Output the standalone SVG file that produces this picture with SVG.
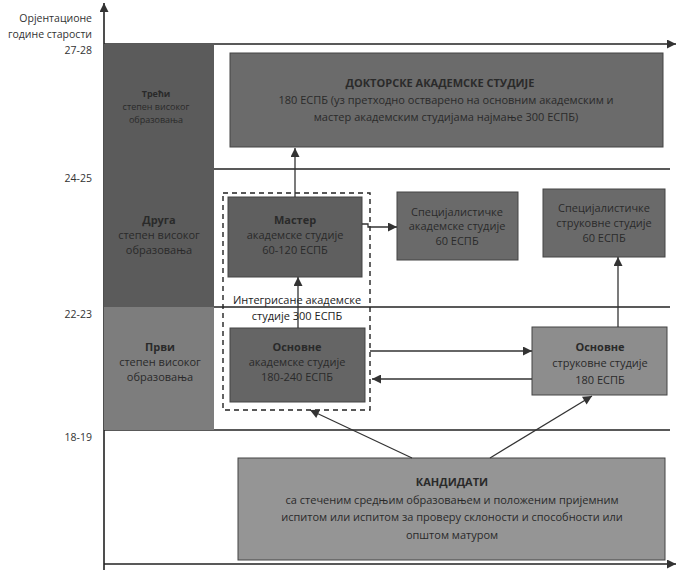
<svg xmlns="http://www.w3.org/2000/svg" width="679" height="572" viewBox="0 0 679 572">
<style>
.t{font-family:"Open Sans","Liberation Sans",sans-serif;font-size:11px;fill:#2a2a2a;text-anchor:middle}
.b{font-weight:bold}
.s{font-size:9px}
.ax{font-family:"Open Sans","Liberation Sans",sans-serif;font-size:10.5px;fill:#333;text-anchor:end}
.ln{stroke:#222;stroke-width:1.6;fill:none}
.c{stroke:#333;stroke-width:1.3;fill:none}
.bx{stroke:#444;stroke-width:1}
</style>
<defs>
<marker id="ah" viewBox="0 0 10 10" refX="10" refY="5" markerWidth="11" markerHeight="9" orient="auto" markerUnits="userSpaceOnUse"><path d="M0,0 L10,5 L0,10 z" fill="#333"/></marker>
</defs>
<rect width="679" height="572" fill="#fff"/>

<g id="axes">
<line class="ln" x1="104" y1="570" x2="104" y2="3" marker-end="url(#ah)"/>
<line class="ln" x1="104" y1="44" x2="676" y2="44" marker-end="url(#ah)"/>
<line class="ln" x1="104" y1="564" x2="676" y2="564" marker-end="url(#ah)"/>
<line class="ln" x1="214" y1="169" x2="670" y2="169"/>
<line class="ln" x1="214" y1="307" x2="670" y2="307"/>
<line class="ln" x1="104" y1="430" x2="670" y2="430"/>
<text class="ax" x="92" y="22">Орјентационе</text>
<text class="ax" x="92" y="38">године старости</text>
<text class="ax" x="92" y="54">27-28</text>
<text class="ax" x="92" y="182">24-25</text>
<text class="ax" x="92" y="318">22-23</text>
<text class="ax" x="92" y="441">18-19</text>
</g>

<g id="level3">
<rect x="104" y="44" width="110" height="125" fill="#5b5b5b"/>
<text class="t b s" x="156" y="97">Трећи</text>
<text class="t s" x="156" y="110">степен високог</text>
<text class="t s" x="156" y="123">образовања</text>
</g>
<g id="level2">
<rect x="104" y="169" width="110" height="138" fill="#5b5b5b"/>
<text class="t b" x="159" y="224">Друга</text>
<text class="t" x="159" y="239">степен високог</text>
<text class="t" x="159" y="254">образовања</text>
</g>
<g id="level1">
<rect x="104" y="307" width="110" height="123" fill="#7d7d7d"/>
<text class="t b" x="160" y="351">Први</text>
<text class="t" x="160" y="366">степен високог</text>
<text class="t" x="160" y="381">образовања</text>
</g>

<g id="doctoral">
<rect class="bx" x="230" y="53" width="433" height="94" fill="#6b6b6b"/>
<text class="t b" x="440" y="87">ДОКТОРСКЕ АКАДЕМСКЕ СТУДИЈЕ</text>
<text class="t" x="446" y="104">180 ЕСПБ (уз претходно остварено на основним академским и</text>
<text class="t" x="446" y="121">мастер академским студијама најмање 300 ЕСПБ)</text>
</g>

<g id="integrated">
<rect x="223" y="193" width="147" height="217" fill="none" stroke="#222" stroke-width="1.4" stroke-dasharray="5,4"/>
<text class="t" x="297" y="304" style="fill:#222">Интегрисане академске</text>
<text class="t" x="297" y="320" style="fill:#222">студије 300 ЕСПБ</text>
</g>

<g id="master">
<rect class="bx" x="228" y="197" width="134" height="80" fill="#5f5f5f"/>
<text class="t b" x="295" y="224">Мастер</text>
<text class="t" x="295" y="239">академске студије</text>
<text class="t" x="295" y="254">60-120 ЕСПБ</text>
</g>

<g id="basic-academic">
<rect class="bx" x="230" y="328" width="135" height="74" fill="#656565"/>
<text class="t b" x="297" y="351">Основне</text>
<text class="t" x="297" y="366">академске студије</text>
<text class="t" x="297" y="381">180-240 ЕСПБ</text>
</g>

<g id="spec-academic">
<rect class="bx" x="397" y="192" width="121" height="68" fill="#6a6a6a"/>
<text class="t" x="457" y="216">Специјалистичке</text>
<text class="t" x="457" y="230">академске студије</text>
<text class="t" x="457" y="245">60 ЕСПБ</text>
</g>

<g id="spec-vocational">
<rect class="bx" x="543" y="189" width="122" height="68" fill="#6a6a6a"/>
<text class="t" x="604" y="212">Специјалистичке</text>
<text class="t" x="604" y="227">струковне студије</text>
<text class="t" x="604" y="242">60 ЕСПБ</text>
</g>

<g id="basic-vocational">
<rect class="bx" x="532" y="327" width="135" height="68" fill="#8d8d8d"/>
<text class="t b" x="600" y="351">Основне</text>
<text class="t" x="600" y="367">струковне студије</text>
<text class="t" x="600" y="384">180 ЕСПБ</text>
</g>

<g id="candidates">
<rect class="bx" x="238" y="458" width="427" height="102" fill="#959595"/>
<text class="t b" x="452" y="486">КАНДИДАТИ</text>
<text class="t" x="452" y="504">са стеченим средњим образовањем и положеним пријемним</text>
<text class="t" x="452" y="521">испитом или испитом за проверу склоности и способности или</text>
<text class="t" x="452" y="539">општом матуром</text>
</g>

<g id="connectors">
<line class="c" x1="295" y1="197" x2="295" y2="148" marker-end="url(#ah)"/>
<line class="c" x1="298" y1="328" x2="298" y2="277" marker-end="url(#ah)"/>
<path class="c" d="M362,224 H368 V227 H397" marker-end="url(#ah)"/>
<line class="c" x1="370" y1="351" x2="532" y2="351" marker-end="url(#ah)"/>
<line class="c" x1="532" y1="379" x2="372" y2="379" marker-end="url(#ah)"/>
<line class="c" x1="618" y1="327" x2="618" y2="257" marker-end="url(#ah)"/>
<line class="c" x1="412" y1="458" x2="310" y2="410" marker-end="url(#ah)"/>
<line class="c" x1="490" y1="458" x2="592" y2="396" marker-end="url(#ah)"/>
</g>
</svg>
